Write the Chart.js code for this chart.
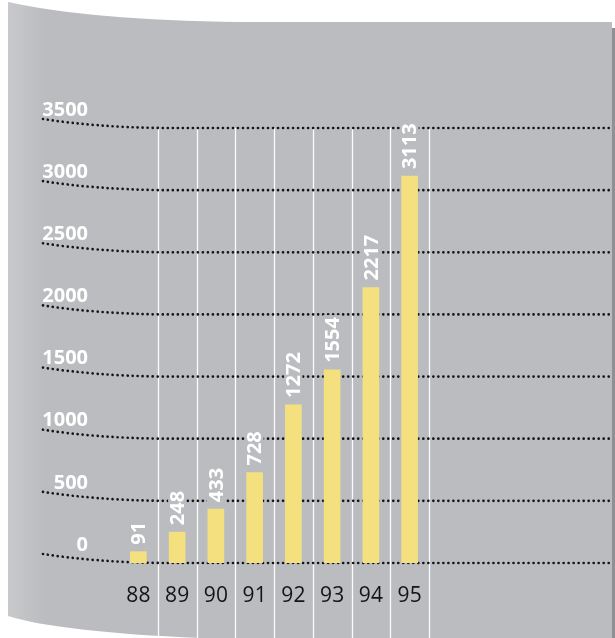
<!DOCTYPE html>
<html>
<head>
<meta charset="utf-8">
<script src="https://cdn.jsdelivr.net/npm/chart.js@4.4.1/dist/chart.umd.min.js"></script>
<style>
  html, body { margin: 0; padding: 0; background: #ffffff; }
  #wrap { width: 615px; height: 638px; }
</style>
</head>
<body>
<div id="wrap"><canvas id="chart" width="615" height="638"></canvas></div>
<script>
    // Data
    const years = ['88', '89', '90', '91', '92', '93', '94', '95'];
    const values = [91, 248, 433, 728, 1272, 1554, 2217, 3113];
    const yMax = 3500;
    const yStep = 500;

    const paperGrey = '#babcbf';
    const barYellow = '#f4e07e';

    // Grey sheet with the curled corners
    const paperPlugin = {
      id: 'paper',
      beforeDraw(chart) {
        const c = chart.ctx;
        const w = chart.width, h = chart.height;
        c.save();
        c.beginPath();
        c.moveTo(8, 2);
        c.quadraticCurveTo(90, 20, 240, 22);
        c.lineTo(612, 22);
        c.lineTo(612, h);
        c.lineTo(200, h);
        c.quadraticCurveTo(60, 632, 8, 616);
        c.closePath();
        c.fillStyle = paperGrey;
        c.fill();
        // lighter strip at the left fold
        const g = c.createLinearGradient(8, 0, 45, 0);
        g.addColorStop(0, 'rgba(255,255,255,0.2)');
        g.addColorStop(1, 'rgba(255,255,255,0)');
        c.fillStyle = g;
        c.fill();
        // dark edge on the right
        c.fillStyle = '#8e9093';
        c.fillRect(612, 28, w - 612, h - 28);
        c.restore();
      }
    };

    // Dotted horizontal lines and white vertical dividers
    const gridPlugin = {
      id: 'customGrid',
      beforeDatasetsDraw(chart) {
        const c = chart.ctx;
        const x = chart.scales.x, y = chart.scales.y;
        const area = chart.chartArea;
        c.save();
        // vertical white lines between years
        const half = (x.getPixelForValue(1) - x.getPixelForValue(0)) / 2;
        c.strokeStyle = 'rgba(255,255,255,0.95)';
        c.lineWidth = 1.3;
        for (let i = 0; i < years.length; i++) {
          const px = Math.round(x.getPixelForValue(i) + half) + 0.5;
          c.beginPath();
          c.moveTo(px, area.top);
          c.lineTo(px, chart.height);
          c.stroke();
        }
        // dotted lines, bending up a little at the left fold
        c.strokeStyle = '#141516';
        c.lineWidth = 2.7;
        c.lineCap = 'round';
        c.setLineDash([0.01, 5]);
        y.ticks.forEach(t => {
          const py = y.getPixelForValue(t.value);
          c.beginPath();
          c.moveTo(43, py - 9);
          c.quadraticCurveTo(95, py - 1, 160, py);
          c.lineTo(610, py);
          c.stroke();
        });
        c.restore();
      }
    };

    // Rotated value labels above the bars
    const valuePlugin = {
      id: 'valueLabels',
      afterDatasetsDraw(chart) {
        const c = chart.ctx;
        const meta = chart.getDatasetMeta(0);
        c.save();
        c.font = 'bold 20px "Open Sans"';
        c.textAlign = 'left';
        c.textBaseline = 'middle';
        meta.data.forEach((bar, i) => {
          const txt = String(values[i]);
          const tw = c.measureText(txt).width;
          c.save();
          c.translate(bar.x, bar.y - 7);
          c.rotate(-Math.PI / 2);
          c.fillStyle = paperGrey;
          c.fillRect(-2, -9, tw + 4, 18);
          c.fillStyle = '#ffffff';
          c.fillText(txt, 0, 1);
          c.restore();
        });
        c.restore();
      }
    };

    const ctx = document.getElementById('chart').getContext('2d');
    const chart = new Chart(ctx, {
      type: 'bar',
      data: {
        labels: years,
        datasets: [{
          data: values,
          backgroundColor: barYellow,
          borderWidth: 0,
          barThickness: 16
        }]
      },
      options: {
        responsive: false,
        animation: false,
        layout: {
          padding: { left: 38, right: 186, top: 128, bottom: 0 }
        },
        plugins: {
          legend: { display: false },
          tooltip: { enabled: false }
        },
        scales: {
          x: {
            grid: { display: false, drawTicks: false },
            border: { display: false },
            ticks: {
              color: '#141414',
              padding: 20,
              font: { family: 'Open Sans', size: 21 }
            },
            afterFit(scale) { scale.height = 75; }
          },
          y: {
            min: 0,
            max: yMax,
            grid: { display: false, drawTicks: false },
            border: { display: false },
            ticks: {
              stepSize: yStep,
              color: '#ffffff',
              padding: 31,
              labelOffset: -18,
              font: { family: 'Open Sans', size: 20, weight: 'bold' },
              callback: value => String(value)
            },
            afterFit(scale) { scale.width = 81; }
          }
        }
      },
      plugins: [paperPlugin, gridPlugin, valuePlugin]
    });
</script>
</body>
</html>
